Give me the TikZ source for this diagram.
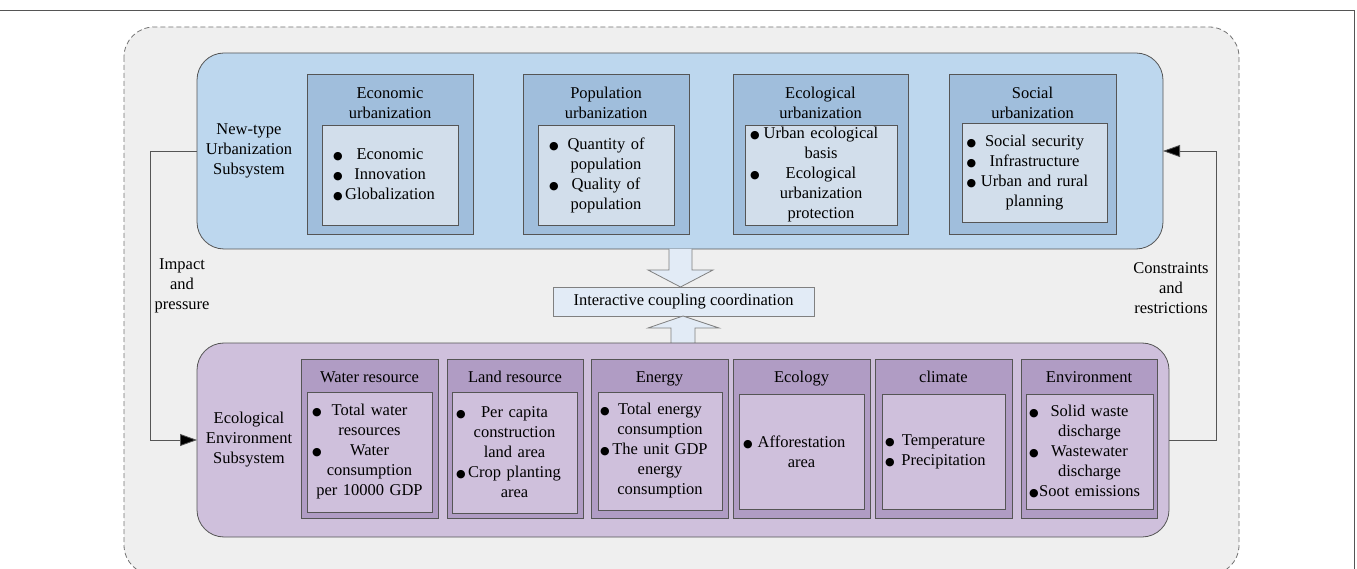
\documentclass[tikz,border=0pt]{standalone}
\usepackage{fontspec}
\setmainfont{Liberation Serif}
\newfontfamily\dotfont{DejaVu Sans}
\usetikzlibrary{arrows.meta}

\definecolor{bggray}{HTML}{EFEFEF}
\definecolor{usysblue}{HTML}{BDD7EE}
\definecolor{ucatblue}{HTML}{A0BEDC}
\definecolor{uinblue}{HTML}{D2DEEB}
\definecolor{esyspurple}{HTML}{CFC0DC}
\definecolor{ecatpurple}{HTML}{B09CC4}
\definecolor{einpurple}{HTML}{CFC0DC}
\definecolor{cplblue}{HTML}{E2EBF6}
\definecolor{edgegray}{HTML}{555555}

\newcommand{\bul}{{\dotfont\fontsize{11}{11}\selectfont ●}}
\newcommand{\itm}[1]{\bul\hfill #1\hfill\hphantom{\bul}}

\begin{document}
\begin{tikzpicture}[x=1pt,y=-1pt,>={Triangle[length=17pt,width=12pt,fill=black]},
	every node/.style={font=\fontsize{16.5}{20}\selectfont,inner sep=0,outer sep=0},
	usys/.style={draw=edgegray,fill=usysblue,line width=0.8,rounded corners=27},
	esys/.style={draw=edgegray,fill=esyspurple,line width=0.8,rounded corners=27},
	ucat/.style={draw=edgegray,fill=ucatblue,line width=0.8},
	ecat/.style={draw=edgegray,fill=ecatpurple,line width=0.8},
	uin/.style={draw=edgegray,fill=uinblue,line width=0.8,align=center},
	ein/.style={draw=edgegray,fill=einpurple,line width=0.8,align=center},
	etitle/.style={anchor=base},
	conn/.style={draw=edgegray,line width=0.8},
	bigarrow/.style={draw=gray,fill=cplblue,line width=0.8}]
	\useasboundingbox (0,0) rectangle (1357,569);
	\clip (0,0) rectangle (1357,569);
	\draw[edgegray,line width=0.8] (0,10) -- (1354,10) -- (1354,569);
	\draw[draw=black!55,fill=bggray,dash pattern=on 5pt off 3pt,line width=0.8,rounded corners=30] (124,27) rectangle (1239,575);
	% urbanization subsystem
	\node[usys,minimum width=966,minimum height=196] (usys) at (680,151) {};
	\node[align=center] (usysl) at (249,151) {New-type\\Urbanization\\Subsystem};
	\node[ucat,minimum width=166,minimum height=160] (econ) at (390,154) {};
	\node[align=center] (econt) at (390,103) {Economic\\urbanization};
	\node[uin,minimum width=136,minimum height=100,text width=114] (econi) at (390,175) {\itm{Economic}\\\itm{Innovation}\\\itm{Globalization}};
	\node[ucat,minimum width=166,minimum height=160] (popu) at (606,154) {};
	\node[align=center] (poput) at (606,103) {Population\\urbanization};
	\node[uin,minimum width=136,minimum height=100,text width=114] (popui) at (606,175) {\itm{Quantity of}\\population\\\itm{Quality of}\\population};
	\node[ucat,minimum width=175,minimum height=160] (ecou) at (820.5,154) {};
	\node[align=center] (ecout) at (820.5,103) {Ecological\\urbanization};
	\node[uin,minimum width=152,minimum height=100,text width=142] (ecoui) at (821,175) {\itm{Urban ecological}\\basis\\\itm{Ecological}\\urbanization\\protection};
	\node[ucat,minimum width=167,minimum height=160] (socu) at (1032.5,154) {};
	\node[align=center] (socut) at (1032.5,103) {Social\\urbanization};
	\node[uin,minimum width=145,minimum height=99,text width=136] (socui) at (1034.5,172.5) {\itm{Social security}\\\itm{Infrastructure}\\\itm{Urban and rural}\\planning};
	% coupling
	\node[bigarrow,minimum width=261,minimum height=29] (cpl) at (683.5,301.5) {Interactive coupling coordination};
	\draw[bigarrow] (669,249) -- (669,270) -- (648,270) -- (680.5,287) -- (713,270) -- (692,270) -- (692,249);
	\draw[bigarrow] (671,343) -- (671,328) -- (648,328) -- (683,316) -- (719,328) -- (695,328) -- (695,343);
	% environment subsystem
	\node[esys,minimum width=972,minimum height=194] (esys) at (683,440) {};
	\node[align=center] (esysl) at (249,440) {Ecological\\Environment\\Subsystem};
	\node[ecat,minimum width=137,minimum height=159] (watr) at (369.5,438.5) {};
	\node[etitle] (watrt) at (369.5,382) {Water resource};
	\node[ein,minimum width=125,minimum height=120,text width=115] (watri) at (369.5,452) {\itm{Total water}\\resources\\\itm{Water}\\consumption\\per 10000 GDP};
	\node[ecat,minimum width=136,minimum height=159] (land) at (515,438.5) {};
	\node[etitle] (landt) at (515,382) {Land resource};
	\node[ein,minimum width=125,minimum height=121,text width=117] (landi) at (514.5,452.5) {\itm{Per capita}\\construction\\land area\\\itm{Crop planting}\\area};
	\node[ecat,minimum width=137,minimum height=159] (enrg) at (659.5,438.5) {};
	\node[etitle] (enrgt) at (659.5,382) {Energy};
	\node[ein,minimum width=124,minimum height=118,text width=120] (enrgi) at (660,451) {\itm{Total energy}\\consumption\\\itm{The unit GDP}\\energy\\consumption};
	\node[ecat,minimum width=137,minimum height=159] (eclg) at (801.5,438.5) {};
	\node[etitle] (eclgt) at (801.5,382) {Ecology};
	\node[ein,minimum width=125,minimum height=115,text width=117] (eclgi) at (801.5,451.5) {\itm{Afforestation}\\area};
	\node[ecat,minimum width=137,minimum height=159] (clim) at (943.5,438.5) {};
	\node[etitle] (climt) at (943.5,382) {climate};
	\node[ein,minimum width=123,minimum height=115,text width=117] (climi) at (943.5,451.5) {\itm{Temperature}\\\itm{Precipitation}};
	\node[ecat,minimum width=136,minimum height=159] (envr) at (1089,438.5) {};
	\node[etitle] (envrt) at (1089,382) {Environment};
	\node[ein,minimum width=127,minimum height=115,text width=121] (envri) at (1089.5,451.5) {\itm{Solid waste}\\discharge\\\itm{Wastewater}\\discharge\\\itm{Soot emissions}};
	% feedback loops
	\draw[conn,->] (usys.west) -- ++(-47,0) |- (esys.west);
	\draw[conn,->] (esys.east) -- ++(47,0) |- (usys.east);
	\node[align=center] (impl) at (182,286) {Impact\\and\\pressure};
	\node[align=center] (conl) at (1171,288) {Constraints\\and\\restrictions};
\end{tikzpicture}
\end{document}
